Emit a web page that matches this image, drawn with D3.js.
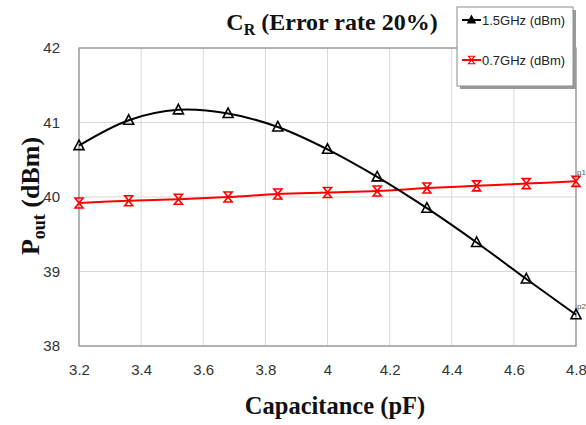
<!DOCTYPE html>
<html>
<head>
<meta charset="utf-8">
<script src="https://cdn.jsdelivr.net/npm/d3@7"></script>
<style>
  body { margin: 0; background: #fff; }
  svg { display: block; }
</style>
</head>
<body>
<div id="chart"></div>
<script>
var svg_dx = 586,
    svg_dy = 425,
    margin = {top: 48, right: 10, bottom: 79, left: 79},
    width = 576 - margin.left,
    height = 346 - margin.top;

// capacitance (pF)
var capacitance = [3.2, 3.36, 3.52, 3.68, 3.84, 4.0, 4.16, 4.32, 4.48, 4.64, 4.8];
// Pout (dBm)
var pout15 = [40.69, 41.03, 41.17, 41.12, 40.94, 40.64, 40.27, 39.85, 39.39, 38.90, 38.42];
var pout07 = [39.92, 39.95, 39.97, 40.00, 40.04, 40.06, 40.08, 40.12, 40.15, 40.18, 40.21];

var xTicks = [3.2, 3.4, 3.6, 3.8, 4, 4.2, 4.4, 4.6, 4.8];
var yTicks = [38, 39, 40, 41, 42];
var seriesNames = ["1.5GHz (dBm)", "0.7GHz (dBm)"];
var seriesColors = ["#000000", "#ff0000"];

var x = d3.scaleLinear().domain([3.2, 4.8]).range([0, width]);
var y = d3.scaleLinear().domain([38, 42]).range([height, 0]);

var svg = d3.select("#chart")
    .append("svg")
    .attr("width", svg_dx)
    .attr("height", svg_dy);

var g = svg.append("g")
    .attr("transform", "translate(" + margin.left + "," + margin.top + ")");

// grid
g.append("g")
   .selectAll("line")
   .data(xTicks)
   .enter()
   .append("line")
   .attr("x1", d => x(d)).attr("x2", d => x(d))
   .attr("y1", 0).attr("y2", height)
   .style("stroke", "#d9d9d9")
   .style("stroke-width", 1);

g.append("g")
   .selectAll("line")
   .data(yTicks)
   .enter()
   .append("line")
   .attr("x1", 0).attr("x2", width)
   .attr("y1", d => y(d)).attr("y2", d => y(d))
   .style("stroke", "#d9d9d9")
   .style("stroke-width", 1);

// plot border
g.append("rect")
   .attr("x", 0).attr("y", 0)
   .attr("width", width).attr("height", height)
   .style("fill", "none")
   .style("stroke", "#8c8c8c")
   .style("stroke-width", 1.2);

// axes (labels only)
var xAxis = g.append("g")
   .attr("transform", "translate(0," + height + ")")
   .call(d3.axisBottom(x).tickValues(xTicks).tickSize(0).tickPadding(18).tickFormat(d3.format("")));
var yAxis = g.append("g")
   .call(d3.axisLeft(y).tickValues(yTicks).tickSize(0).tickPadding(19).tickFormat(d3.format("d")));
[xAxis, yAxis].forEach(function(a) {
  a.select(".domain").remove();
  a.selectAll("text")
   .style("font-family", "'Liberation Sans', Arial, sans-serif")
   .style("font-size", "15px")
   .style("fill", "#333");
});

// series
var line = d3.line()
    .x((d, i) => x(capacitance[i]))
    .y(d => y(d))
    .curve(d3.curveCatmullRom.alpha(0.5));

g.append("path")
   .datum(pout07)
   .attr("d", line)
   .style("fill", "none")
   .style("stroke", seriesColors[1])
   .style("stroke-width", 2);

g.append("path")
   .datum(pout15)
   .attr("d", line)
   .style("fill", "none")
   .style("stroke", seriesColors[0])
   .style("stroke-width", 2);

var triangle = "M0,-5.5L5,4L-5,4Z";
var hourglass = "M-4,-5H4L-4,5H4Z";

g.append("g")
   .selectAll("path")
   .data(pout07)
   .enter()
   .append("path")
   .attr("d", hourglass)
   .attr("transform", (d, i) => "translate(" + x(capacitance[i]) + "," + y(d) + ")")
   .style("fill", "none")
   .style("stroke", seriesColors[1])
   .style("stroke-width", 1.6);

g.append("g")
   .selectAll("path")
   .data(pout15)
   .enter()
   .append("path")
   .attr("d", triangle)
   .attr("transform", (d, i) => "translate(" + x(capacitance[i]) + "," + y(d) + ")")
   .style("fill", "none")
   .style("stroke", seriesColors[0])
   .style("stroke-width", 1.6);

// tiny end labels
[["p1", pout07], ["p2", pout15]].forEach(function(p) {
  g.append("text")
   .attr("x", x(4.8) + 1)
   .attr("y", y(p[1][p[1].length - 1]) - 6)
   .text(p[0])
   .style("font-family", "'Liberation Sans', Arial, sans-serif")
   .style("font-size", "8px")
   .style("fill", "#555");
});

var serif = "'Liberation Serif', 'DejaVu Serif', serif";

// title
var title = svg.append("text")
   .attr("x", 332)
   .attr("y", 30)
   .attr("text-anchor", "middle")
   .style("font-family", serif)
   .style("font-weight", "bold")
   .style("font-size", "24px")
   .style("fill", "#111");
title.append("tspan").text("C");
title.append("tspan").attr("dy", 5).style("font-size", "16px").text("R");
title.append("tspan").attr("dy", -5).text(" (Error rate 20%)");

// x label
svg.append("text")
   .attr("x", 335)
   .attr("y", 414)
   .attr("text-anchor", "middle")
   .style("font-family", serif)
   .style("font-weight", "bold")
   .style("font-size", "24.5px")
   .style("fill", "#111")
   .text("Capacitance (pF)");

// y label
var ylab = svg.append("text")
   .attr("transform", "translate(39,196) rotate(-90)")
   .attr("text-anchor", "middle")
   .style("font-family", serif)
   .style("font-weight", "bold")
   .style("font-size", "26px")
   .style("fill", "#111");
ylab.append("tspan").text("P");
ylab.append("tspan").attr("dy", 6).style("font-size", "18px").text("out");
ylab.append("tspan").attr("dy", -6).text(" (dBm)");

// legend
var lg = svg.append("g").attr("transform", "translate(457,7)");
lg.append("rect")
   .attr("x", 3).attr("y", 3)
   .attr("width", 116).attr("height", 79)
   .style("fill", "#9a9a9a");
lg.append("rect")
   .attr("x", 0).attr("y", 0)
   .attr("width", 116).attr("height", 79)
   .style("fill", "#fff")
   .style("stroke", "#8c8c8c")
   .style("stroke-width", 1);

var legendMarks = [triangle, hourglass];
seriesNames.forEach(function(name, i) {
  var row = lg.append("g").attr("transform", "translate(0," + (13 + i * 40) + ")");
  row.append("line")
     .attr("x1", 5).attr("x2", 24)
     .attr("y1", 0).attr("y2", 0)
     .style("stroke", seriesColors[i])
     .style("stroke-width", 2);
  row.append("path")
     .attr("d", legendMarks[i])
     .attr("transform", "translate(14.5,0) scale(0.75)")
     .style("fill", i == 0 ? seriesColors[0] : "none")
     .style("stroke", seriesColors[i])
     .style("stroke-width", 1.6);
  row.append("text")
     .attr("x", 25)
     .attr("y", 4.5)
     .text(name)
     .style("font-family", "'Liberation Sans', Arial, sans-serif")
     .style("font-size", "13px")
     .style("fill", "#222");
});
</script>
</body>
</html>
